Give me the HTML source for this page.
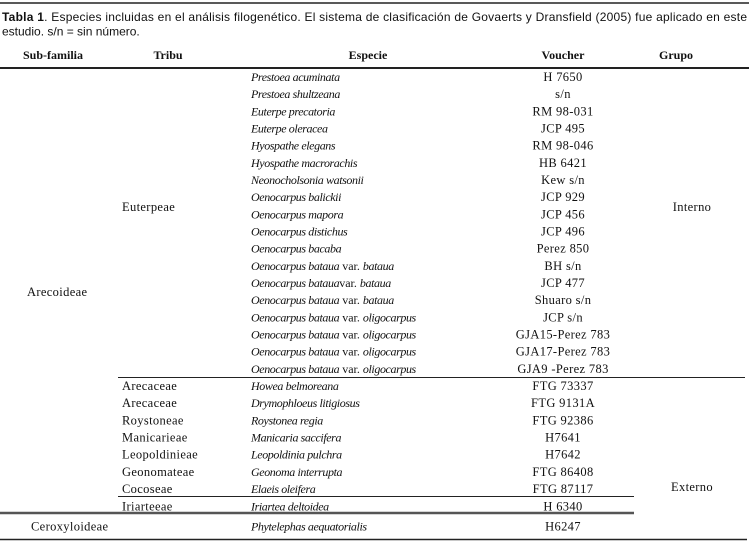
<!DOCTYPE html>
<html>
<head>
<meta charset="utf-8">
<style>
  html, body { margin: 0; padding: 0; background: #fff; }
  svg { display: block; }
  .cap { font-family: "Liberation Sans", Arial, sans-serif; font-size: 12px; fill: #111; }
  .hd { font-family: "Liberation Serif", serif; font-size: 12px; font-weight: bold; fill: #111; }
  .t { font-family: "Liberation Serif", serif; font-size: 12.5px; letter-spacing: 0.35px; fill: #111; }
  .i { font-style: italic; font-size: 12px; letter-spacing: -0.4px; }
</style>
</head>
<body>
<svg width="750" height="541" viewBox="0 0 750 541" xmlns="http://www.w3.org/2000/svg">
  <rect width="750" height="541" fill="#fff"/>
  <!-- top rule -->
  <line x1="0" y1="3" x2="749" y2="3" stroke="#222" stroke-width="1.5"/>
  <!-- caption -->
  <text class="cap" x="2" y="21" textLength="745" lengthAdjust="spacing"><tspan font-weight="bold">Tabla 1</tspan>. Especies incluidas en el análisis filogenético. El sistema de clasificación de Govaerts y Dransfield (2005) fue aplicado en este</text>
  <text class="cap" x="2" y="35.5">estudio. s/n = sin número.</text>

  <!-- header -->
  <text class="hd" x="53" y="59" text-anchor="middle">Sub-familia</text>
  <text class="hd" x="168" y="59" text-anchor="middle">Tribu</text>
  <text class="hd" x="368" y="59" text-anchor="middle">Especie</text>
  <text class="hd" x="563" y="59" text-anchor="middle">Voucher</text>
  <text class="hd" x="676" y="59" text-anchor="middle">Grupo</text>
  <line x1="0" y1="68" x2="749" y2="68" stroke="#222" stroke-width="2"/>

  <!-- species column -->
  <g class="t">
    <text class="i" x="251" y="81">Prestoea acuminata</text>
    <text class="i" x="251" y="98.2">Prestoea shultzeana</text>
    <text class="i" x="251" y="115.3">Euterpe precatoria</text>
    <text class="i" x="251" y="132.5">Euterpe oleracea</text>
    <text class="i" x="251" y="149.7">Hyospathe elegans</text>
    <text class="i" x="251" y="166.9">Hyospathe macrorachis</text>
    <text class="i" x="251" y="184">Neonocholsonia watsonii</text>
    <text class="i" x="251" y="201.2">Oenocarpus balickii</text>
    <text class="i" x="251" y="218.4">Oenocarpus mapora</text>
    <text class="i" x="251" y="235.5">Oenocarpus distichus</text>
    <text class="i" x="251" y="252.7">Oenocarpus bacaba</text>
    <text x="251" y="269.9" font-size="12" letter-spacing="0"><tspan class="i">Oenocarpus bataua</tspan> var. <tspan class="i">bataua</tspan></text>
    <text x="251" y="287" font-size="12" letter-spacing="0"><tspan class="i">Oenocarpus bataua</tspan>var. <tspan class="i">bataua</tspan></text>
    <text x="251" y="304.2" font-size="12" letter-spacing="0"><tspan class="i">Oenocarpus bataua</tspan> var. <tspan class="i">bataua</tspan></text>
    <text x="251" y="321.4" font-size="12" letter-spacing="0"><tspan class="i">Oenocarpus bataua</tspan> var. <tspan class="i">oligocarpus</tspan></text>
    <text x="251" y="338.6" font-size="12" letter-spacing="0"><tspan class="i">Oenocarpus bataua</tspan> var. <tspan class="i">oligocarpus</tspan></text>
    <text x="251" y="355.7" font-size="12" letter-spacing="0"><tspan class="i">Oenocarpus bataua</tspan> var. <tspan class="i">oligocarpus</tspan></text>
    <text x="251" y="372.9" font-size="12" letter-spacing="0"><tspan class="i">Oenocarpus bataua</tspan> var. <tspan class="i">oligocarpus</tspan></text>
    <text class="i" x="251" y="390.1">Howea belmoreana</text>
    <text class="i" x="251" y="407.2">Drymophloeus litigiosus</text>
    <text class="i" x="251" y="424.4">Roystonea regia</text>
    <text class="i" x="251" y="441.6">Manicaria saccifera</text>
    <text class="i" x="251" y="458.7">Leopoldinia pulchra</text>
    <text class="i" x="251" y="475.9">Geonoma interrupta</text>
    <text class="i" x="251" y="493.1">Elaeis oleifera</text>
    <text class="i" x="251" y="510.3">Iriartea deltoidea</text>
    <text class="i" x="251" y="530.5">Phytelephas aequatorialis</text>
  </g>

  <!-- voucher column -->
  <g class="t" text-anchor="middle">
    <text x="563" y="81">H 7650</text>
    <text x="563" y="98.2">s/n</text>
    <text x="563" y="115.3">RM 98-031</text>
    <text x="563" y="132.5">JCP 495</text>
    <text x="563" y="149.7">RM 98-046</text>
    <text x="563" y="166.9">HB 6421</text>
    <text x="563" y="184">Kew s/n</text>
    <text x="563" y="201.2">JCP 929</text>
    <text x="563" y="218.4">JCP 456</text>
    <text x="563" y="235.5">JCP 496</text>
    <text x="563" y="252.7">Perez 850</text>
    <text x="563" y="269.9">BH s/n</text>
    <text x="563" y="287">JCP 477</text>
    <text x="563" y="304.2">Shuaro s/n</text>
    <text x="563" y="321.4">JCP s/n</text>
    <text x="563" y="338.6">GJA15-Perez 783</text>
    <text x="563" y="355.7">GJA17-Perez 783</text>
    <text x="563" y="372.9">GJA9 -Perez 783</text>
    <text x="563" y="390.1">FTG 73337</text>
    <text x="563" y="407.2">FTG 9131A</text>
    <text x="563" y="424.4">FTG 92386</text>
    <text x="563" y="441.6">H7641</text>
    <text x="563" y="458.7">H7642</text>
    <text x="563" y="475.9">FTG 86408</text>
    <text x="563" y="493.1">FTG 87117</text>
    <text x="563" y="510.3">H 6340</text>
    <text x="563" y="530.5">H6247</text>
  </g>

  <!-- tribu column -->
  <g class="t">
    <text x="122" y="211">Euterpeae</text>
    <text x="122" y="390.1">Arecaceae</text>
    <text x="122" y="407.2">Arecaceae</text>
    <text x="122" y="424.4">Roystoneae</text>
    <text x="122" y="441.6">Manicarieae</text>
    <text x="122" y="458.7">Leopoldinieae</text>
    <text x="122" y="475.9">Geonomateae</text>
    <text x="122" y="493.1">Cocoseae</text>
    <text x="122" y="510.3">Iriarteeae</text>
  </g>

  <!-- subfamily column -->
  <g class="t">
    <text x="27" y="296">Arecoideae</text>
    <text x="31" y="530.5">Ceroxyloideae</text>
  </g>

  <!-- grupo column -->
  <g class="t" text-anchor="middle">
    <text x="692" y="211">Interno</text>
    <text x="692" y="491">Externo</text>
  </g>

  <!-- inner rules -->
  <line x1="118" y1="377.5" x2="745" y2="377.5" stroke="#222" stroke-width="1"/>
  <line x1="118" y1="496.5" x2="634" y2="496.5" stroke="#222" stroke-width="1"/>
  <line x1="0" y1="513" x2="634" y2="513" stroke="#555" stroke-width="2.5"/>
  <!-- bottom rule -->
  <line x1="0" y1="539.5" x2="747" y2="539.5" stroke="#222" stroke-width="1.5"/>
</svg>
</body>
</html>
